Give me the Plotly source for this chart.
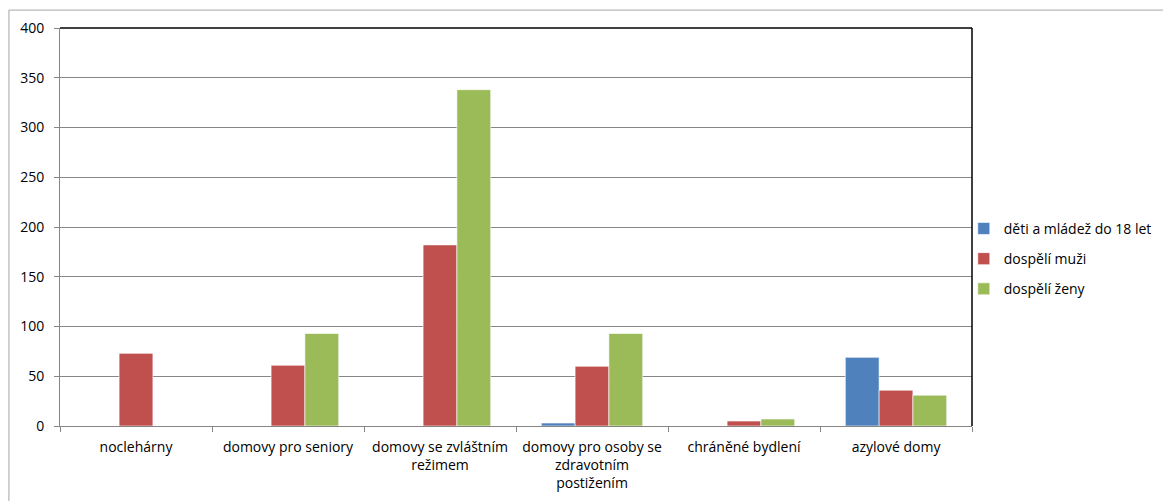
import plotly.graph_objects as go

CATEGORIES = [
    "noclehárny",
    "domovy pro seniory",
    "domovy se zvláštním<br>režimem",
    "domovy pro osoby se<br>zdravotním<br>postižením",
    "chráněné bydlení",
    "azylové domy",
]
SERIES = ["děti a mládež do 18 let", "dospělí muži", "dospělí ženy"]
CHILDREN = [0, 0, 0, 3, 0, 69]
MEN = [73, 61, 182, 60, 5, 36]
WOMEN = [0, 93, 338, 93, 7, 31]
COLORS = ["#4F81BD", "#C0504D", "#9BBB59"]

fig = go.Figure()
for name, values, color in zip(SERIES, [CHILDREN, MEN, WOMEN], COLORS):
    fig.add_trace(
        go.Bar(
            x=CATEGORIES,
            y=values,
            name=name,
            legendgroup=name,
            marker={"color": color, "line": {"color": "rgba(255,255,255,0.6)", "width": 1}},
        )
    )

FONT = "Open Sans"
fig.update_layout(
    width=1171,
    height=501,
    barmode="group",
    bargap=0.333,
    bargroupgap=0,
    plot_bgcolor="white",
    paper_bgcolor="white",
    font={"family": FONT, "size": 14, "color": "#000000"},
    margin={"l": 52, "r": 207, "t": 20, "b": 83, "autoexpand": False},
    legend={
        "x": 0.991,
        "xanchor": "left",
        "y": 0.42,
        "yanchor": "middle",
        "font": {"size": 14},
        "tracegroupgap": 9,
        "itemwidth": 30,
        "bgcolor": "rgba(0,0,0,0)",
    },
    xaxis={
        "showgrid": False,
        "showline": True,
        "linecolor": "#868686",
        "ticks": "outside",
        "tickson": "boundaries",
        "ticklen": 5,
        "tickcolor": "#868686",
        "ticklabelstandoff": 8,
        "fixedrange": True,
    },
    yaxis={
        "range": [0, 400],
        "dtick": 50,
        "showgrid": True,
        "gridcolor": "#868686",
        "showline": True,
        "linecolor": "#868686",
        "ticks": "outside",
        "ticklen": 5,
        "tickcolor": "#868686",
        "ticklabelstandoff": 7,
        "zeroline": False,
    },
    shapes=[
        # plot area top and right edge
        {"type": "line", "xref": "paper", "yref": "paper", "x0": 0, "x1": 1, "y0": 1, "y1": 1,
         "line": {"color": "#000000", "width": 1.5}},
        {"type": "line", "xref": "paper", "yref": "paper", "x0": 1, "x1": 1, "y0": 0, "y1": 1,
         "line": {"color": "#000000", "width": 1.5}},
        # outer chart frame
        {"type": "rect", "xref": "paper", "yref": "paper", "x0": -0.056, "x1": 1.3,
         "y0": -0.3, "y1": 1.045, "line": {"color": "#A6A6A6", "width": 1}, "layer": "below"},
    ],
)

fig.write_html("out.html")
